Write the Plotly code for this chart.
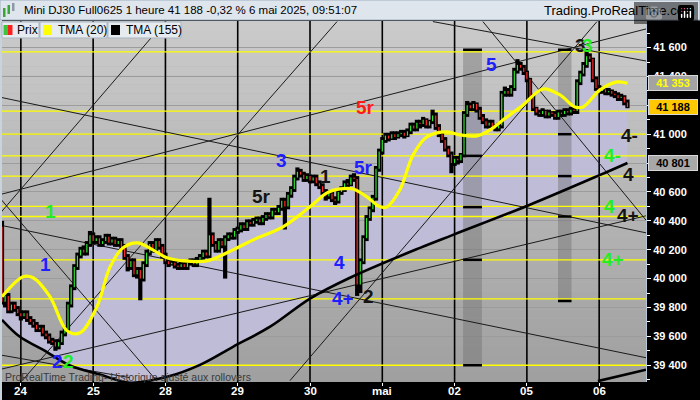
import plotly.graph_objects as go

# hourly candles, index 0..199 (Mini DJ30, 1 heure)
opens = [
    40360, 39840, 39880, 39780, 39820, 39790, 39760, 39740, 39760, 39720,
    39700, 39680, 39650, 39660, 39620, 39600, 39570, 39560, 39530, 39560,
    39620, 39650, 39820, 39940, 40080, 40160, 40200, 40180, 40240, 40300,
    40260, 40280, 40240, 40260, 40290, 40250, 40270, 40240, 40260, 40220,
    40150, 40080, 40120, 40030, 40060, 40000, 40100, 40180, 40240, 40200,
    40260, 40220, 40160, 40120, 40100, 40110, 40090, 40080, 40100, 40080,
    40110, 40120, 40100, 40130, 40150, 40180, 40160, 40300, 40240, 40200,
    40260, 40230, 40280, 40300, 40290, 40330, 40340, 40370, 40350, 40390,
    40380, 40400, 40410, 40390, 40420, 40440, 40430, 40470, 40460, 40490,
    40540, 40500, 40580, 40620, 40700, 40740, 40720, 40690, 40710, 40680,
    40700, 40660, 40640, 40600, 40570, 40590, 40550, 40540, 40600, 40620,
    40660, 40650, 40700, 40690, 39960, 40120, 40280, 40420, 40480, 40560,
    40760, 40880, 40960, 40990, 40970, 41000, 40980, 41000, 41010, 40990,
    41020, 41060, 41040, 41080, 41070, 41100, 41060, 41090, 41130, 41050,
    41000, 40960, 40900, 40860, 40800, 40830, 40820, 40860, 41140, 41200,
    41180, 41210, 41170, 41120, 41090, 41060, 41080, 41050, 41040, 41060,
    41280, 41300, 41280, 41320, 41440, 41480, 41460, 41430, 41380, 41260,
    41180, 41150, 41140, 41160, 41130, 41150, 41140, 41120, 41150, 41140,
    41160, 41150, 41170, 41160, 41360, 41420, 41480, 41540, 41520, 41380,
    41320, 41300, 41310, 41290, 41300, 41280, 41270, 41250, 41260, 41220,
]
highs = [
    40400, 39900, 39900, 39840, 39840, 39810, 39780, 39780, 39780, 39740,
    39720, 39700, 39680, 39680, 39640, 39620, 39590, 39580, 39580, 39640,
    39670, 39840, 39960, 40100, 40180, 40220, 40230, 40260, 40330, 40320,
    40300, 40300, 40280, 40310, 40310, 40290, 40290, 40280, 40280, 40240,
    40170, 40140, 40140, 40080, 40080, 40120, 40200, 40260, 40260, 40280,
    40280, 40240, 40180, 40140, 40130, 40130, 40110, 40120, 40120, 40130,
    40140, 40140, 40150, 40170, 40200, 40200, 40560, 40320, 40260, 40280,
    40280, 40300, 40320, 40320, 40350, 40360, 40390, 40390, 40410, 40410,
    40420, 40430, 40430, 40440, 40460, 40460, 40490, 40490, 40510, 40560,
    40560, 40600, 40640, 40720, 40770, 40760, 40740, 40730, 40720, 40720,
    40720, 40680, 40660, 40620, 40610, 40610, 40570, 40620, 40640, 40680,
    40690, 40720, 40730, 40710, 40140, 40300, 40440, 40500, 40580, 40780,
    40900, 40980, 41010, 41010, 41020, 41020, 41020, 41030, 41030, 41040,
    41080, 41080, 41100, 41100, 41120, 41110, 41100, 41170, 41150, 41070,
    41020, 40980, 40920, 40880, 40850, 40850, 40870, 41160, 41230, 41220,
    41230, 41220, 41190, 41140, 41110, 41100, 41100, 41070, 41080, 41300,
    41330, 41320, 41340, 41460, 41520, 41500, 41480, 41440, 41390, 41280,
    41190, 41170, 41180, 41170, 41170, 41160, 41160, 41170, 41170, 41180,
    41180, 41190, 41190, 41380, 41440, 41500, 41590, 41560, 41530, 41400,
    41340, 41330, 41320, 41320, 41310, 41300, 41290, 41280, 41270, 41240,
]
lows = [
    39820, 39800, 39760, 39760, 39770, 39740, 39710, 39720, 39700, 39680,
    39660, 39630, 39630, 39600, 39580, 39550, 39540, 39500, 39510, 39540,
    39600, 39630, 39800, 39920, 40060, 40140, 40160, 40160, 40220, 40240,
    40240, 40220, 40220, 40240, 40230, 40230, 40220, 40220, 40200, 40130,
    40050, 40060, 40010, 40000, 39850, 39980, 40080, 40160, 40180, 40180,
    40200, 40140, 40100, 40080, 40090, 40070, 40060, 40060, 40060, 40060,
    40090, 40080, 40080, 40110, 40130, 40140, 40140, 40220, 40180, 40180,
    40210, 40000, 40260, 40270, 40270, 40310, 40320, 40330, 40330, 40360,
    40360, 40380, 40370, 40370, 40400, 40410, 40410, 40440, 40440, 40470,
    40340, 40480, 40560, 40600, 40680, 40700, 40670, 40670, 40660, 40660,
    40640, 40620, 40580, 40540, 40550, 40530, 40510, 40520, 40580, 40600,
    40620, 40640, 40670, 39880, 39900, 40100, 40260, 40400, 40460, 40540,
    40740, 40860, 40940, 40950, 40960, 40960, 40970, 40980, 40970, 40980,
    41000, 41020, 41020, 41040, 41050, 41040, 41040, 41070, 41030, 40980,
    40940, 40880, 40840, 40730, 40780, 40790, 40800, 40840, 41120, 41160,
    41160, 41150, 41100, 41070, 41040, 41040, 41030, 41020, 41020, 41040,
    41260, 41260, 41260, 41300, 41420, 41440, 41410, 41360, 41240, 41160,
    41130, 41120, 41120, 41110, 41110, 41120, 41100, 41100, 41120, 41120,
    41130, 41130, 41140, 41140, 41340, 41400, 41460, 41500, 41360, 41300,
    41280, 41280, 41270, 41270, 41260, 41250, 41230, 41230, 41200, 41180,
]
closes = [
    39840, 39880, 39780, 39820, 39790, 39760, 39740, 39760, 39720, 39700,
    39680, 39650, 39660, 39620, 39600, 39570, 39560, 39530, 39560, 39620,
    39650, 39820, 39940, 40080, 40160, 40200, 40180, 40240, 40300, 40260,
    40280, 40240, 40260, 40290, 40250, 40270, 40240, 40260, 40220, 40150,
    40080, 40120, 40030, 40060, 40000, 40100, 40180, 40240, 40200, 40260,
    40220, 40160, 40120, 40100, 40110, 40090, 40080, 40100, 40080, 40110,
    40120, 40100, 40130, 40150, 40180, 40160, 40300, 40240, 40200, 40260,
    40230, 40280, 40300, 40290, 40330, 40340, 40370, 40350, 40390, 40380,
    40400, 40410, 40390, 40420, 40440, 40430, 40470, 40460, 40490, 40540,
    40500, 40580, 40620, 40700, 40740, 40720, 40690, 40710, 40680, 40700,
    40660, 40640, 40600, 40570, 40590, 40550, 40540, 40600, 40620, 40660,
    40650, 40700, 40690, 39960, 40120, 40280, 40420, 40480, 40560, 40760,
    40880, 40960, 40990, 40970, 41000, 40980, 41000, 41010, 40990, 41020,
    41060, 41040, 41080, 41070, 41100, 41060, 41090, 41130, 41050, 41000,
    40960, 40900, 40860, 40800, 40830, 40820, 40860, 41140, 41200, 41180,
    41210, 41170, 41120, 41090, 41060, 41080, 41050, 41040, 41060, 41280,
    41300, 41280, 41320, 41440, 41480, 41460, 41430, 41380, 41260, 41180,
    41150, 41140, 41160, 41130, 41150, 41140, 41120, 41150, 41140, 41160,
    41150, 41170, 41160, 41360, 41420, 41480, 41540, 41520, 41380, 41320,
    41300, 41310, 41290, 41300, 41280, 41270, 41250, 41260, 41220, 41188,
]
candle_idx = list(range(len(closes)))

day_index = [6, 29, 52, 75, 98, 121, 144, 167, 190]
day_labels = ["24", "25", "28", "29", "30", "mai", "02", "05", "06"]

# moving averages (candle index, price)
tma20_x = [0, 6.7, 9.9, 15.3, 20.7, 24.8, 30.2, 34.4, 38.5, 43, 48, 52.5, 57.6,
           65.2, 73.5, 79.9, 89.4, 98, 103.4, 107.5, 111.7, 116.1, 120.3, 122.5,
           126.6, 130.8, 135.2, 141.6, 145.7, 151.1, 155.3, 159.4, 165.8, 172.1,
           177.5, 182.3, 184.9, 190.3, 195.7, 199]
tma20_y = [39874, 40013, 40006, 39874, 39639, 39625, 39805, 40082, 40213, 40248,
           40199, 40144, 40123, 40123, 40199, 40268, 40358, 40497, 40594, 40621,
           40621, 40566, 40497, 40497, 40615, 40857, 40981, 41016, 40995, 40988,
           41030, 41099, 41203, 41313, 41272, 41189, 41189, 41307, 41362, 41353]
tma155_x = [0, 5.7, 13, 21.6, 31.2, 40.7, 52.5, 63, 73.5, 85.3, 98, 110.7, 133,
            143.5, 167, 190.3, 199]
tma155_y = [39715, 39597, 39508, 39398, 39336, 39279, 39320, 39403, 39528, 39667,
            39862, 40006, 40213, 40303, 40503, 40718, 40801]

last_price = 41188
last_tma20 = 41353
last_tma155 = 40801

# horizontal levels (yellow)
yellow_levels = [41570, 41160, 41000, 40850, 40710, 40500, 40430, 40130, 39860, 39400]

# drawn trend lines: start / end (candle index, price)
trend_x0 = [-1, -1, -1, 6.4, 137.1, 153.0, 91.6, -1, -1, -1, -1]
trend_y0 = [40442, 41258, 40580, 39293, 41780, 41780, 39293, 40372, 39369, 40566, 39473]
trend_x1 = [51.9, 204.9, 204.9, 106.6, 204.9, 204.9, 189.3, 204.9, 204.9, 49.3, 40.7]
trend_y1 = [41780, 40317, 41729, 41780, 41507, 40405, 41780, 39452, 40435, 39290, 39314]
thick_x = [189.6, 204.9]
thick_y = [39290, 39369]

# grey session columns with their level marks
band_x0 = [146.7, 176.9]
band_x1 = [152.7, 181.2]
band_top = [41585, 41585]
band_bottom = [39400, 39845]
band_marks = [[41585, 40850, 40495, 40130, 39400], [41585, 41000, 40710, 40430, 39845]]

# wave count labels
wave_text = ["1", "1", "2", "2", "3", "5r", "1", "5r", "5r", "4", "4+", "2", "5",
             "3", "3", "4-", "4-", "4", "4", "4+", "4+"]
wave_x = [15.3, 13.7, 17.8, 21.0, 89.0, 82.7, 102.8, 114.9, 115.5, 107.5, 108.5,
          116.5, 155.9, 183.9, 186.4, 199.8, 194.1, 199.2, 193.4, 199.2, 194.4]
wave_y = [40462, 40096, 39425, 39425, 40820, 40566, 40710, 40767, 41182, 40111,
          39862, 39876, 41480, 41611, 41611, 40994, 40856, 40718, 40496, 40435, 40130]
BLUE, GREEN, RED, BLACK = "#1e1eff", "#22ee22", "#ff1a1a", "#141414"
wave_color = [GREEN, BLUE, BLUE, GREEN, BLUE, BLACK, BLACK, BLUE, RED, BLUE, BLUE,
              BLACK, BLUE, BLACK, GREEN, BLACK, GREEN, BLACK, GREEN, BLACK, GREEN]

Y_LO, Y_HI = 39284, 41784
X_LO, X_HI = 0, 204.9

fig = go.Figure()

# lavender area between price and TMA (155)
fig.add_trace(go.Scatter(x=tma155_x, y=tma155_y, mode="lines",
                         line=dict(width=0, shape="spline"), hoverinfo="skip"))
fig.add_trace(go.Scatter(x=candle_idx, y=closes, mode="lines", line=dict(width=0),
                         fill="tonexty", fillcolor="#bebcd7", hoverinfo="skip"))

# grey columns
for x0, x1, top, bot in zip(band_x0, band_x1, band_top, band_bottom):
    fig.add_trace(go.Scatter(x=[x0, x1, x1, x0, x0], y=[bot, bot, top, top, bot],
                             mode="lines", line=dict(width=0), fill="toself",
                             fillcolor="rgba(110,110,110,0.42)", hoverinfo="skip"))

# day separators
vx, vy = [], []
for d in day_index:
    vx += [d, d, None]
    vy += [Y_LO, Y_HI, None]
fig.add_trace(go.Scatter(x=vx, y=vy, mode="lines", line=dict(color="black", width=1.6),
                         hoverinfo="skip"))

# yellow levels
hx, hy = [], []
for lv in yellow_levels:
    hx += [X_LO, X_HI, None]
    hy += [lv, lv, None]
fig.add_trace(go.Scatter(x=hx, y=hy, mode="lines", line=dict(color="#ffff00", width=1.3),
                         hoverinfo="skip"))

# trend lines
tx, ty = [], []
for a, b, c, d in zip(trend_x0, trend_y0, trend_x1, trend_y1):
    tx += [a, c, None]
    ty += [b, d, None]
fig.add_trace(go.Scatter(x=tx, y=ty, mode="lines", line=dict(color="#1a1a1a", width=1),
                         hoverinfo="skip"))

# marks on the grey columns
mx, my = [], []
for x0, x1, marks in zip(band_x0, band_x1, band_marks):
    for m in marks:
        mx += [x0, x1, None]
        my += [m, m, None]
fig.add_trace(go.Scatter(x=mx, y=my, mode="lines", line=dict(color="black", width=2.5),
                         hoverinfo="skip"))

# candles: black bar high-low, coloured core open-close
wx, wy, ux, uy, dx, dy = [], [], [], [], [], []
for i, o, h, l, c in zip(candle_idx, opens, highs, lows, closes):
    wx += [i, i, None]
    wy += [l, h, None]
    if c >= o:
        ux += [i, i, None]
        uy += [o, c, None]
    else:
        dx += [i, i, None]
        dy += [o, c, None]
fig.add_trace(go.Scatter(x=wx, y=wy, mode="lines", line=dict(color="black", width=4.2),
                         hoverinfo="skip"))
fig.add_trace(go.Scatter(x=ux, y=uy, mode="lines", line=dict(color="#2ee62e", width=1.2),
                         hoverinfo="skip"))
fig.add_trace(go.Scatter(x=dx, y=dy, mode="lines", line=dict(color="#ff2a2a", width=1.2),
                         hoverinfo="skip"))

fig.add_trace(go.Scatter(x=tma155_x, y=tma155_y, mode="lines",
                         line=dict(color="black", width=2.6, shape="spline"), hoverinfo="skip"))
fig.add_trace(go.Scatter(x=thick_x, y=thick_y, mode="lines",
                         line=dict(color="black", width=2.6), hoverinfo="skip"))
fig.add_trace(go.Scatter(x=tma20_x, y=tma20_y, mode="lines",
                         line=dict(color="#ffff00", width=3.2, shape="spline"), hoverinfo="skip"))

# background gradient of the plot area
shapes = []
n = 40
for k in range(n):
    g = int(203 - (203 - 160) * k / (n - 1))
    shapes.append(dict(type="rect", xref="paper", yref="paper", x0=0, x1=1,
                       y0=1 - (k + 1) / n, y1=1 - k / n, layer="below",
                       line=dict(width=0), fillcolor=f"rgb({g},{g},{g})"))

PW, PH = 644.0, 361.0


def px(x):
    return (x - 2) / PW


def py(y):
    return (382 - y) / PH


# title bar
shapes.append(dict(type="rect", xref="paper", yref="paper", x0=px(0), x1=px(700),
                   y0=py(20), y1=py(0), line=dict(color="#9fb0c2", width=1),
                   fillcolor="#dfe5ec"))
# small candlestick icon in the title bar
for x0, x1, y0, y1, col in [(3, 5.5, 8, 17, "#3aa63a"), (7.5, 10, 5, 14, "#3aa63a"),
                            (12, 14.5, 3, 11, "#8a9aa8")]:
    shapes.append(dict(type="rect", xref="paper", yref="paper", x0=px(x0), x1=px(x1),
                       y0=py(y1), y1=py(y0), line=dict(width=0), fillcolor=col))
# left border
shapes.append(dict(type="rect", xref="paper", yref="paper", x0=px(0), x1=px(2),
                   y0=py(400), y1=py(20), line=dict(width=0), fillcolor="#c9d3dc"))
# legend boxes
for x0, x1 in [(2, 39), (40, 107), (108, 181)]:
    shapes.append(dict(type="rect", xref="paper", yref="paper", x0=px(x0), x1=px(x1),
                       y0=py(38), y1=py(22), line=dict(color="#a9b5c1", width=1),
                       fillcolor="#e6ebf0"))
for x0, x1, col in [(3.5, 8, "#3cc43c"), (8, 12.5, "#ff1e1e"), (43, 52, "#ffff00"),
                    (111, 120, "#000000")]:
    shapes.append(dict(type="rect", xref="paper", yref="paper", x0=px(x0), x1=px(x1),
                       y0=py(35), y1=py(25), line=dict(width=0), fillcolor=col))

annotations = []
annotations.append(dict(xref="paper", yref="paper", x=px(22), y=py(10), xanchor="left",
                        yanchor="middle", showarrow=False,
                        text="Mini DJ30 Full0625 1 heure 41 188 -0,32 % 6 mai 2025, 09:51:07",
                        font=dict(size=11.5, color="black")))
annotations.append(dict(xref="paper", yref="paper", x=px(697), y=py(10), xanchor="right",
                        yanchor="middle", showarrow=False, text="Trading.ProRealTime.com",
                        font=dict(size=13, color="black")))
for x0, label in [(15, "Prix"), (56, "TMA (20)"), (124, "TMA (155)")]:
    annotations.append(dict(xref="paper", yref="paper", x=px(x0), y=py(30), xanchor="left",
                            yanchor="middle", showarrow=False, text=label,
                            font=dict(size=12, color="black")))
annotations.append(dict(xref="paper", yref="paper", x=px(3), y=py(376.5), xanchor="left",
                        yanchor="middle", showarrow=False,
                        text="ProRealTime Trading- Historique ajusté aux rollovers",
                        font=dict(size=10.5, color="#3a3a3a")))

# date labels under the day separators
for d, lab in zip(day_index, day_labels):
    annotations.append(dict(x=d, xref="x", yref="paper", y=py(391), text=lab,
                            showarrow=False, xanchor="center", yanchor="middle",
                            font=dict(size=11.5, color="white", weight="bold")))

for t, x, y, c in zip(wave_text, wave_x, wave_y, wave_color):
    annotations.append(dict(x=x, y=y, text=t, showarrow=False, xanchor="center",
                            yanchor="middle", font=dict(size=19, color=c, weight="bold")))

# value boxes on the price axis
for val, bg, fg in [(last_tma20, "#a3a3a3", "#ffff00"), (last_price, "#ffc800", "black"),
                    (last_tma155, "#a8a8a8", "black")]:
    annotations.append(dict(xref="paper", yref="y", x=px(648), y=val, xanchor="left",
                            yanchor="middle", showarrow=False, width=46, align="center",
                            text=f"{val:,}".replace(",", " "), bgcolor=bg,
                            bordercolor="#d8d8d8", borderwidth=1, borderpad=1,
                            font=dict(size=11, color=fg, weight="bold")))

fig.update_layout(
    width=700, height=400,
    margin=dict(l=2, r=54, t=21, b=18),
    paper_bgcolor="black", plot_bgcolor="#b4b4b4",
    showlegend=False,
    separators=", ",
    font=dict(family="Liberation Sans, Arial, sans-serif", size=11, color="white"),
    shapes=shapes,
    annotations=annotations,
    xaxis=dict(range=[X_LO, X_HI], tickvals=day_index, showticklabels=False,
               showgrid=False, zeroline=False, showline=False, ticks="outside",
               ticklen=3, tickcolor="white", automargin=False, fixedrange=True),
    yaxis=dict(range=[Y_LO, Y_HI], side="right", dtick=200, tickformat=",d",
               showgrid=True, gridcolor="#9c9c9c", gridwidth=1, zeroline=False,
               showline=True, linecolor="#b8c8d8", ticks="outside", ticklen=4,
               tickcolor="white", automargin=False,
               tickfont=dict(color="white", size=11, weight="bold"),
               minor=dict(dtick=100, ticks="outside", ticklen=3, tickcolor="white",
                          showgrid=False),
               fixedrange=True),
)

# the page is photographed at 700x400: drop the default body margin
fig.write_html("out.html", post_script="document.body.style.margin='0px';")
